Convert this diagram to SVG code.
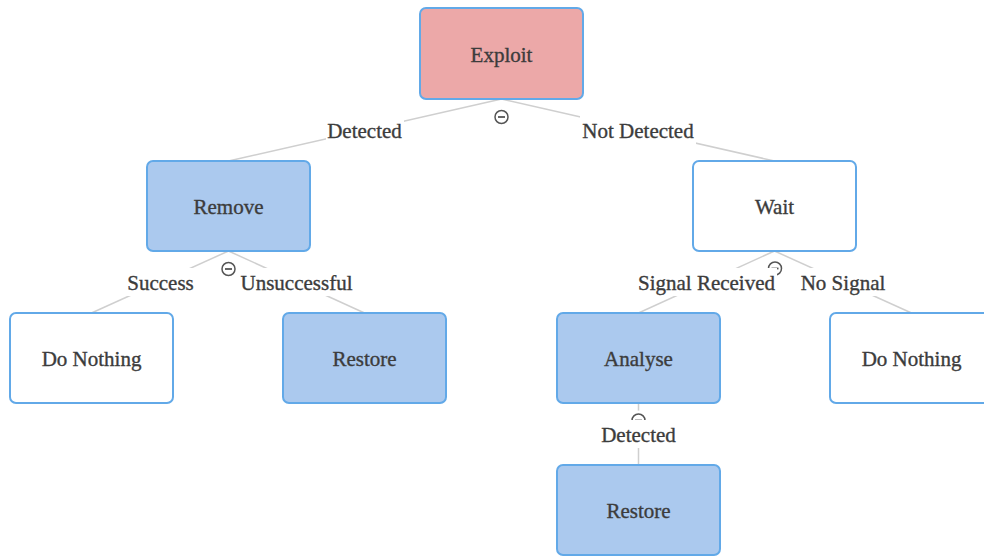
<svg xmlns="http://www.w3.org/2000/svg" width="984" height="556" viewBox="0 0 984 556">
  <style>
    .node rect.box { stroke: #62a9e8; stroke-width: 2; }
    .plain { fill: #ffffff; }
    .blue { fill: #abc9ee; }
    .red { fill: #eca8a8; }
    .node text, .edge-label text {
      font-family: "Liberation Serif", "Times New Roman", serif;
      font-size: 21px;
      fill: #3c3c3c;
      stroke: #3c3c3c;
      stroke-width: 0.35px;
      text-anchor: middle;
    }
    .link { stroke: #cfcfcf; stroke-width: 1.5; fill: none; }
    .toggle circle.halo { fill: #ffffff; }
    .toggle circle.ring { fill: #ffffff; stroke: #555555; stroke-width: 1.5; }
    .toggle line { stroke: #555555; stroke-width: 1.8; }
    .edge-label rect { fill: #ffffff; }
  </style>
  <defs>
    <!-- collapse toggle drawn under each expanded node -->
    <g id="toggle" class="toggle">
      <circle class="halo" r="10"/>
      <circle class="ring" r="6.5"/>
      <line x1="-3.5" y1="0" x2="3.5" y2="0"/>
    </g>
  </defs>

  <rect width="984" height="556" fill="#ffffff"/>

  <g id="connectors">
    <line class="link" x1="501.5" y1="99" x2="228.5" y2="161"/>
    <line class="link" x1="501.5" y1="99" x2="774.5" y2="161"/>
    <line class="link" x1="228.5" y1="251" x2="91.5" y2="313"/>
    <line class="link" x1="228.5" y1="251" x2="364.5" y2="313"/>
    <line class="link" x1="774.5" y1="251" x2="638.5" y2="313"/>
    <line class="link" x1="774.5" y1="251" x2="911.5" y2="313"/>
    <line class="link" x1="638.5" y1="403" x2="638.5" y2="465"/>
  </g>

  <g id="nodes">
    <g id="node-exploit" class="node">
      <rect class="box red" x="420" y="8" width="163" height="91" rx="6"/>
      <text x="501.5" y="61.5">Exploit</text>
      <use href="#toggle" x="501.5" y="117"/>
    </g>
    <g id="node-remove" class="node">
      <rect class="box blue" x="147" y="161" width="163" height="90" rx="6"/>
      <text x="228.5" y="214">Remove</text>
      <use href="#toggle" x="228.5" y="269"/>
    </g>
    <g id="node-do-nothing-1" class="node">
      <rect class="box plain" x="10" y="313" width="163" height="90" rx="6"/>
      <text x="91.5" y="366">Do Nothing</text>
    </g>
    <g id="node-restore-1" class="node">
      <rect class="box blue" x="283" y="313" width="163" height="90" rx="6"/>
      <text x="364.5" y="366">Restore</text>
    </g>
    <g id="node-wait" class="node">
      <rect class="box plain" x="693" y="161" width="163" height="90" rx="6"/>
      <text x="774.5" y="214">Wait</text>
      <use href="#toggle" x="775" y="268.5"/>
    </g>
    <g id="node-analyse" class="node">
      <rect class="box blue" x="557" y="313" width="163" height="90" rx="6"/>
      <text x="638.5" y="366">Analyse</text>
      <use href="#toggle" x="638.5" y="420.5"/>
    </g>
    <g id="node-do-nothing-2" class="node">
      <rect class="box plain" x="830" y="313" width="163" height="90" rx="6"/>
      <text x="911.5" y="366">Do Nothing</text>
    </g>
    <g id="node-restore-2" class="node">
      <rect class="box blue" x="557" y="465" width="163" height="90" rx="6"/>
      <text x="638.5" y="518">Restore</text>
    </g>
  </g>

  <g id="edge-labels" class="edge-label">
    <rect x="326" y="116" width="78" height="28"/>
    <text x="364.5" y="138">Detected</text>
    <rect x="580" y="116" width="116" height="28"/>
    <text x="638" y="138">Not Detected</text>
    <rect x="126" y="268" width="69" height="28"/>
    <text x="160.5" y="290">Success</text>
    <rect x="239" y="268" width="115" height="28"/>
    <text x="296.5" y="290">Unsuccessful</text>
    <rect x="636" y="268" width="141" height="28"/>
    <text x="706.5" y="290" textLength="137" lengthAdjust="spacingAndGlyphs">Signal Received</text>
    <rect x="799" y="268" width="88" height="28"/>
    <text x="843" y="290">No Signal</text>
    <rect x="599" y="420" width="79" height="28"/>
    <text x="638.5" y="442">Detected</text>
  </g>
</svg>
